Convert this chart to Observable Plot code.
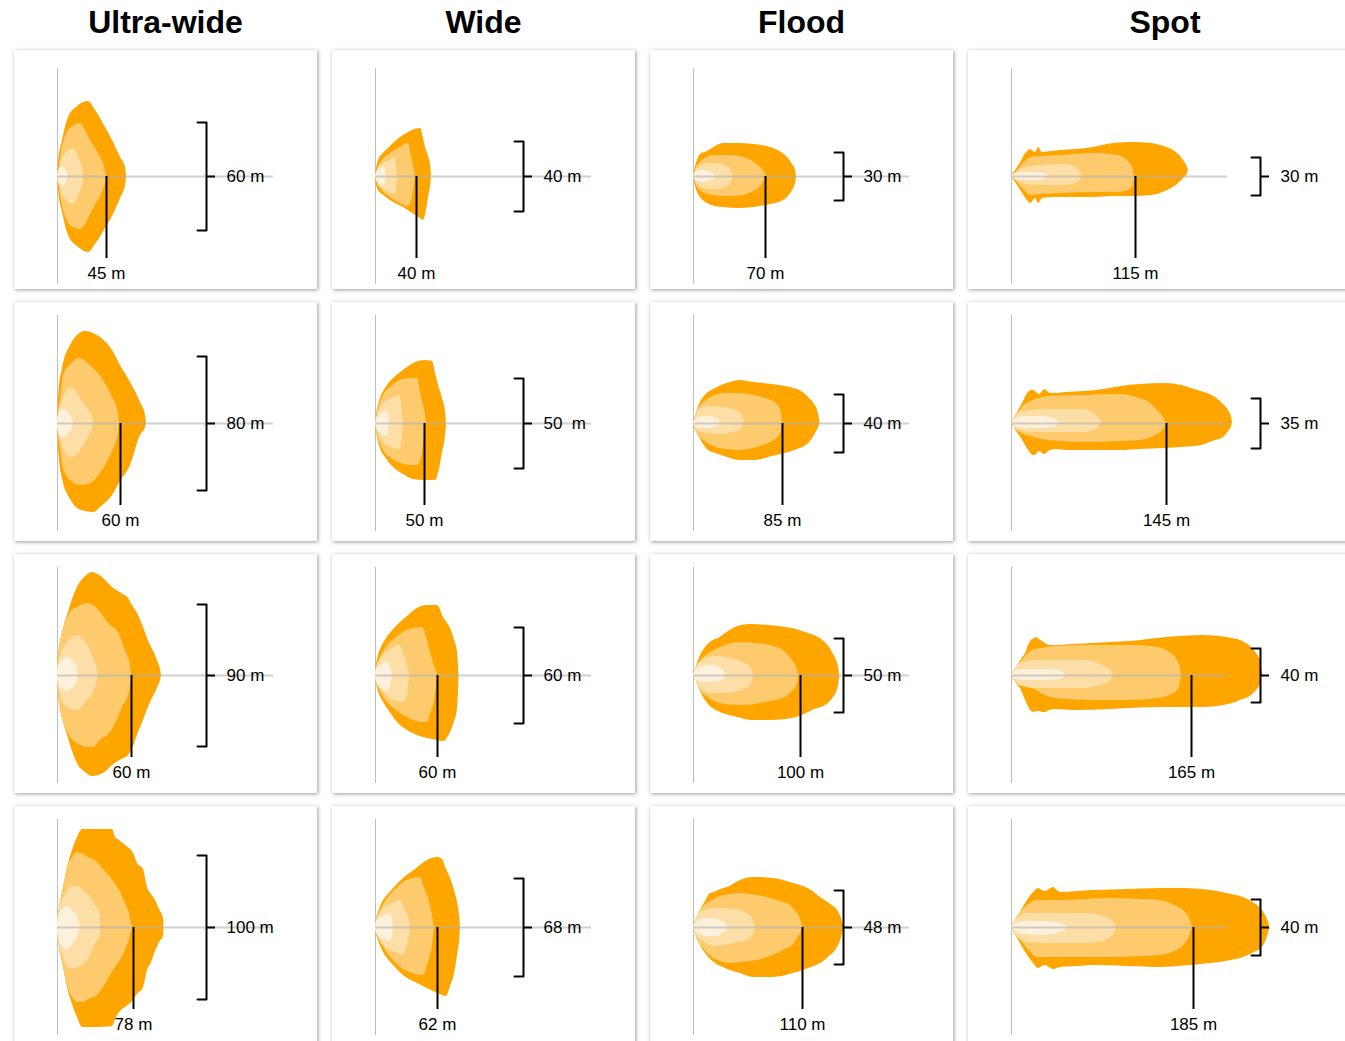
<!DOCTYPE html>
<html><head><meta charset="utf-8">
<script src="https://cdn.jsdelivr.net/npm/d3@7"></script>
<script src="https://cdn.jsdelivr.net/npm/@observablehq/plot@0.6"></script>
<style>
body{margin:0;background:#fff;width:1345px;height:1041px;overflow:hidden;position:relative;font-family:"Liberation Sans",Arial,sans-serif;}
.title{position:absolute;top:3px;font-weight:bold;font-size:32px;line-height:38px;text-align:center;color:#000;}
.panel{position:absolute;background:#fff;box-shadow:1px 1px 4px rgba(0,0,0,.4);}
.panel svg{display:block;}
svg text{white-space:pre;}
</style></head><body>
<script>
// ---- data ----
const beamTypes = ["Ultra-wide", "Wide", "Flood", "Spot"];
const reachLabels = [["45 m","60 m","60 m","78 m"],["40 m","50 m","60 m","62 m"],["70 m","85 m","100 m","110 m"],["115 m","145 m","165 m","185 m"]];
const spreadLabels = [["60 m","80 m","90 m","100 m"],["40 m","50  m","60 m","68 m"],["30 m","40 m","50 m","48 m"],["30 m","35 m","40 m","40 m"]];
const reachX = [[49,63,74,76],[41,49,62,62],[72,89,107,109],[124,155,180,182]];
const spreadHalf = [[54,67,71,72],[35,45,48,49],[24,29,37,37],[19,25,27,28]];
const beamColors = ["#ffa500","#fdca6e","#fddea6","#fef1dc"];

// beam outlines per row: layers [outer, mid, inner, core], points [reach, top, bottom]
const ultraWide = [
 [[[0,0,0],[1,13,-13],[5,36,-36],[11,59,-59],[20,70,-70],[31,75,-76],[38,66,-68],[48,49,-52],[55,36,-40],[63,19,-22],[68,9,-9],[69,0,0]],
  [[0,0,0],[2,12,-12],[4,25,-25],[8,40,-40],[14,49,-50],[23,53,-53],[28,46,-48],[33,36,-38],[38,28,-29],[44,17,-18],[48,6,-6],[49,0,0]],
  [[0,0,0],[2,10,-10],[5,19,-19],[10,25,-25],[15,28,-28],[20,22,-22],[24,12,-12],[26,4,-4],[26.5,0,0]],
  [[0,0,0],[2,7,-7],[6,9,-9],[9,6,-6],[11,0,0]]],
 [[[0,0,0],[0.5,14,-14],[1.5,31,-31],[5,55,-55],[13,78,-76],[20,88,-85],[28,92,-88],[36,90,-89],[43,86,-84],[55,73,-72],[63,58,-58],[73,41,-42],[83,21,-12],[88,8,-4],[89,0,0]],
  [[0,0,0],[1,12,-12],[3,25,-25],[6,48,-45],[14,60,-58],[23,65,-62],[33,58,-60],[46,43,-45],[55,26,-28],[61,10,-10],[62,0,0]],
  [[0,0,0],[1,8,-8],[3,16,-16],[7,28,-28],[13,36,-34],[20,30,-31],[26,21,-22],[32,12,-12],[35,6,-6],[36,0,0]],
  [[0,0,0],[1,8,-8],[4,14,-14],[8,14,-14],[12,9,-9],[15,4,-4],[16,0,0]]],
 [[[0,0,0],[0.5,10,-10],[3,33,-33],[6,47,-47],[10,60,-60],[15,76,-76],[21,90,-90],[28,99,-97],[35,103,-101],[46,97,-98],[55,88,-90],[64,82,-84],[71,77,-80],[75,70,-73],[81,60,-57],[86,48,-45],[90,37,-34],[94,28,-25],[98,20,-17],[101,12,-10],[103,6,-5],[104,0,0]],
  [[0,0,0],[1,20,-20],[5,43,-43],[9,55,-55],[13,63,-62],[20,68,-68],[30,72,-72],[36,70,-72],[43,63,-65],[53,50,-57],[61,43,-42],[66,30,-30],[70,20,-23],[73,10,-10],[74,0,0]],
  [[0,0,0],[1,12,-12],[3,20,-20],[6,27,-27],[12,35,-33],[20,40,-35],[26,35,-30],[30,30,-25],[36,17,-17],[39,9,-9],[41,0,0]],
  [[0,0,0],[1,8,-8],[4,14,-13],[10,18,-16],[15,15,-13],[19,10,-9],[21,0,0]]],
 [[[0,0,0],[0.5,10,-10],[2,17,-17],[4,30,-30],[6,40,-40],[10,60,-60],[15,77,-77],[20,90,-90],[25,98,-100],[40,98,-100],[55,98,-99],[58,90,-92],[62,87,-85],[68,82,-80],[76,74,-73],[80,64,-67],[86,58,-60],[90,40,-43],[94,33,-35],[98,27,-24],[102,18,-15],[106,9,-9],[106.5,0,0]],
  [[0,0,0],[1,14,-14],[5,34,-34],[10,60,-58],[15,70,-70],[20,75,-75],[26,73,-75],[31,70,-72],[40,65,-68],[46,58,-60],[53,50,-48],[58,43,-40],[63,35,-33],[68,24,-23],[71,17,-15],[75,0,0]],
  [[0,0,0],[1,12,-12],[5,27,-27],[10,36,-38],[15,41,-42],[20,41,-40],[27,36,-36],[33,30,-28],[38,22,-16],[43,12,-8],[43.5,0,0]],
  [[0,0,0],[1,10,-10],[5,18,-19],[10,21,-23],[15,17,-17],[20,11,-10],[23,0,0]]]
];
const wide = [
 [[[0,0,0],[1,8,-8],[3,16,-14],[7,22,-18],[12,27,-22],[20,35,-27],[28,41,-31],[37,46,-37],[45,48,-42],[48,38,-44],[50,29,-38],[53,20,-21],[55,12,-10],[56,0,0]],
  [[0,0,0],[2,7,-7],[6,15,-13],[15,23,-21],[25,29,-27],[33,33,-30],[36,20,-24],[38,12,-14],[40,0,0]],
  [[0,0,0],[2,7,-7],[7,12,-12],[14,16,-16],[20,19,-18],[21,9,-10],[22,0,0]],
  [[0,0,0],[2,5,-5],[5,8,-8],[8,9,-9],[10,5,-5],[11,0,0]]],
 [[[0,0,0],[1,8,-8],[5,25,-25],[10,35,-34],[18,45,-44],[28,53,-51],[38,60,-56],[50,63,-57],[57,62,-57],[60,50,-57],[63,38,-50],[67,25,-29],[70,11,-12],[71,0,0]],
  [[0,0,0],[2,11,-11],[8,28,-27],[16,37,-35],[25,43,-40],[35,45,-42],[42,45,-42],[45,31,-38],[48,18,-22],[50,8,-8],[50.5,0,0]],
  [[0,0,0],[2,8,-8],[8,20,-19],[16,25,-24],[24,28,-26],[26,18,-20],[27,9,-10],[28,0,0]],
  [[0,0,0],[2,6,-6],[7,11,-11],[12,13,-13],[13,7,-7],[14,0,0]]],
 [[[0,0,0],[1,10,-8],[3,20,-16],[7,30,-25],[14,41,-36],[22,50,-47],[32,59,-55],[42,67,-60],[52,70,-63],[62,70,-65],[68,58,-66],[75,47,-57],[79,35,-46],[82,23,-33],[83,10,-15],[83.5,0,0]],
  [[0,0,0],[1,8,-7],[3,14,-12],[7,22,-20],[12,30,-27],[20,37,-34],[28,43,-40],[38,47,-45],[47,48,-47],[52,35,-47],[55,23,-38],[58,12,-30],[61,4,-10],[62,0,0]],
  [[0,0,0],[1,7,-6],[4,14,-12],[8,20,-17],[15,26,-23],[25,30,-27],[28,22,-27],[31,13,-23],[33,6,-13],[34,0,0]],
  [[0,0,0],[1,6,-6],[5,10,-12],[13,13,-16],[15,8,-10],[17,0,0]]],
 [[[0,0,0],[1,8,-7],[3,15,-13],[8,27,-25],[12,32,-31],[20,41,-40],[28,49,-48],[40,58,-55],[52,67,-61],[62,70,-66],[67,68,-68],[71,58,-69],[75,49,-59],[79,37,-46],[82,25,-28],[84,12,-14],[85,0,0]],
  [[0,0,0],[1,6,-5],[3,12,-10],[7,21,-18],[12,29,-26],[20,38,-35],[28,45,-42],[38,49,-46],[45,50,-48],[48,42,-48],[52,32,-38],[55,21,-28],[57,12,-18],[58,6,-8],[59,0,0]],
  [[0,0,0],[1,6,-5],[4,13,-12],[8,19,-18],[15,23,-23],[25,27,-27],[28,22,-28],[32,12,-17],[34,6,-9],[35,0,0]],
  [[0,0,0],[1,5,-5],[5,10,-10],[10,12,-13],[15,14,-14],[17,7,-8],[18,0,0]]]
];
const flood = [
 [[[0,0,0],[2,10,-10],[4,16,-16],[7,22,-21],[14,25,-27],[22,30,-30],[30,33,-31],[45,33,-32],[60,32,-31],[77,29,-28],[88,24,-25],[94,19,-21],[99,12,-14],[102,6,-7],[103,0,0]],
  [[0,0,0],[2,7,-7],[6,13,-13],[12,18,-17],[20,21,-19],[35,21,-20],[50,19,-19],[58,16,-16],[65,11,-12],[70,6,-6],[73,0,0]],
  [[0,0,0],[3,7,-7],[8,11,-11],[15,13,-13],[25,13,-13],[32,11,-11],[37,7,-7],[40,0,0]],
  [[0,0,0],[2,4,-4],[8,6,-6],[15,5,-5],[20,3,-3],[22,0,0]]],
 [[[0,0,0],[3,10,-8],[6,19,-14],[10,26,-21],[15,31,-27],[22,35,-30],[28,38,-32],[37,41,-35],[46,43,-37],[60,41,-37],[79,39,-33],[92,37,-30],[104,34,-26],[111,30,-23],[117,24,-18],[121,19,-12],[124,13,-6],[126,4,-2],[126.5,1,1]],
  [[0,0,0],[2,8,-7],[6,16,-13],[13,23,-19],[22,28,-24],[33,30,-26],[46,30,-27],[60,28,-25],[75,24,-20],[84,19,-14],[88,11,-8],[89,2,-2],[89.5,0,0]],
  [[0,0,0],[3,8,-6],[6,14,-8],[15,17,-10],[28,16,-11],[40,14,-9],[46,11,-7],[49,7,-4],[51,1,1]],
  [[0,0,0],[3,5,-4],[9,7,-5],[17,7,-5],[23,5,-4],[27,1,1]]],
 [[[0,0,0],[3,9,-6],[7,20,-16],[12,28,-25],[18,34,-32],[25,37,-36],[32,42,-39],[40,47,-41],[48,50,-43],[58,51,-45],[75,50,-45],[92,48,-44],[103,46,-42],[115,42,-37],[121,40,-34],[128,36,-32],[136,28,-27],[140,21,-22],[143,15,-17],[145,8,-10],[146,1,-2],[146.5,-1,-1]],
  [[0,0,0],[3,8,-6],[7,14,-15],[13,20,-21],[21,25,-26],[32,30,-29],[47,33,-30],[62,32,-29],[77,30,-26],[92,23,-22],[98,16,-17],[101,12,-14],[104,5,-7],[105,0,0]],
  [[0,0,0],[3,8,-6],[7,14,-13],[14,18,-17],[25,19,-18],[36,17,-18],[45,15,-16],[55,10,-12],[59,4,-5],[60,0,0]],
  [[0,0,0],[3,6,-5],[9,9,-7],[18,10,-7],[26,8,-6],[31,4,-3],[32,0,0]]],
 [[[0,0,0],[3,9,-8],[7,17,-18],[12,26,-26],[17,34,-32],[21,35,-35],[25,37,-38],[30,39,-40],[34,40,-42],[47,47,-46],[60,50,-50],[80,49,-50],[100,44,-46],[107,42,-44],[118,37,-40],[127,30,-36],[136,24,-29],[144,17,-20],[148,9,-10],[150,2,-1],[150.5,0.5,0.5]],
  [[0,0,0],[2,7,-7],[5,14,-15],[9,20,-20],[14,24,-26],[19,27,-30],[30,32,-35],[37,33,-36],[47,34,-35],[64,32,-33],[74,30,-30],[90,25,-23],[94,24,-21],[100,19,-17],[105,12,-9],[108,5,-4],[109,0,0]],
  [[0,0,0],[2,7,-6],[5,13,-10],[10,17,-14],[20,19,-19],[30,19,-18],[40,18,-16],[47,17,-15],[55,13,-12],[59,9,-8],[61,4,-4],[62,0,0]],
  [[0,0,0],[3,5,-5],[8,8,-8],[14,9,-9],[24,8,-9],[29,6,-6],[33,3,-3],[34,0,0]]]
];
const spot = [
 [[[0,0,0],[8,12,-12],[16,25,-24],[19,27,-27],[22,25,-24],[24,24,-22],[27,29,-27],[31,24,-22],[40,25,-21],[49,26,-21],[65,27,-21],[82,29,-21],[102,33,-20],[122,34,-20],[140,33,-19],[149,31,-17],[160,27,-12],[166,23,-8],[172,16,-2],[176,9,3],[177,6,6]],
  [[0,0,0],[5,5,-5],[12,13,-13],[20,19,-19],[30,20,-18],[50,21,-17],[82,23,-16],[106,21,-16],[116,16,-14],[120,11,-12],[122,6,-7],[123,-1,-1]],
  [[0,0,0],[5,4,-4],[15,9,-8],[30,11,-9],[50,12,-9],[60,11,-8],[67,7,-5],[71,1,1]],
  [[0,0,0],[5,3,-3],[15,4,-4],[28,4,-4],[34,3,-2],[37,0.5,0.5]]],
 [[[0,0,0],[5,9,-8],[10,18,-15],[17,31,-27],[20,33,-31],[22.5,33,-32],[25,31,-31],[28,29,-28],[31,32,-30],[33.5,34,-31],[36,32,-29],[39,30,-27],[44,30,-26],[55,31,-27],[73,32,-27],[92,34,-27],[110,37,-27],[128,39,-26],[154,40,-25],[170,38,-24],[183,34,-23],[190,32,-22],[204,26,-17],[212,19,-14],[217,13,-8],[220,6,-3],[221,1,1]],
  [[0,0,0],[5,8,-7],[10,15,-10],[15,20,-12],[22,23,-14],[37,27,-17],[73,28,-19],[110,29,-18],[128,25,-17],[138,21,-15],[146,13,-11],[152,6,-6],[155,0,0]],
  [[0,0,0],[4,6,-5],[8,11,-7],[20,13,-9],[40,14,-9],[73,14,-9],[82,10,-7],[87,6,-4],[90,1,1]],
  [[0,0,0],[5,5,-4],[15,7,-5],[30,7,-5],[42,5,-4],[48,1,1]]],
 [[[0,0,0],[5,8,-8],[10,16,-15],[14,22,-25],[17,30,-31],[20,35,-36],[23,37,-37],[25,38,-36],[28,36,-36],[31,34,-37],[34,32,-37],[38,30,-35],[44,30,-34],[62,31,-35],[99,33,-34],[118,34,-33],[155,38,-32],[191,40,-32],[221,37,-28],[229,35,-25],[240,28,-20],[245,22,-15],[249,15,-8],[251,2,0],[251.5,1,1]],
  [[0,0,0],[5,8,-6],[10,14,-9],[15,20,-11],[21,25,-13],[30,27,-18],[44,29,-23],[81,30,-25],[118,30,-25],[147,28,-23],[158,23,-20],[166,15,-15],[169,7,-7],[170,0,0]],
  [[0,0,0],[4,8,-6],[8,12,-10],[25,15,-13],[50,15,-13],[73,15,-13],[85,13,-11],[95,8,-8],[100,4,-4],[102,0,0]],
  [[0,0,0],[5,5,-4],[15,6,-5],[35,6,-5],[48,5,-4],[55,0,0]]],
 [[[0,0,0],[5,8,-9],[10,17,-18],[16,27,-28],[22,35,-36],[27,39,-41],[31,37,-39],[34,36,-38],[38,38,-40],[42,40,-42],[46,37,-41],[49,35,-40],[66,36,-39],[82,37,-38],[116,38,-39],[149,39,-40],[166,39,-39],[199,37,-36],[220,33,-33],[232,30,-30],[243,24,-25],[251,17,-20],[255,10,-12],[258,2,-2],[258.5,0,0]],
  [[0,0,0],[4,8,-8],[9,15,-13],[16,22,-21],[26,27,-30],[49,27,-30],[99,29,-30],[130,28,-29],[149,27,-28],[163,22,-24],[172,17,-18],[178,9,-9],[181,0,0]],
  [[0,0,0],[4,7,-7],[9,11,-11],[15,14,-15],[49,14,-16],[75,14,-16],[89,12,-15],[98,9,-11],[103,4,-5],[105,0,0]],
  [[0,0,0],[4,4,-4],[12,6,-7],[32,6,-8],[45,5,-6],[52,3,-3],[56,0,0]]]
];

// ---- layout ----
const colLeft = [14, 332, 650, 968];
const colWidth = [303, 303, 303, 394];
const rowTop = [50, 302, 554, 806];
const rowCenter = [126, 121, 121, 121];
const panelH = 239, lampX = 43;
const bracketX = [140, 139, 141, 240];
const shapes = [ultraWide, wide, flood, spot];

beamTypes.forEach((name, c) => {
  const t = document.createElement("div");
  t.className = "title";
  t.style.left = colLeft[c] + "px";
  t.style.width = colWidth[c] + "px";
  t.textContent = name;
  document.body.appendChild(t);
  for (let r = 0; r < 4; r++) {
    const W = colWidth[c], cy = rowCenter[r], bx = bracketX[c];
    const h = spreadHalf[c][r], rx = reachX[c][r];
    const marks = [
      Plot.ruleX([0], {x: () => 0, y1: () => -108, y2: () => 108, stroke: "#bdbdbd", strokeWidth: 1}),
      ...shapes[c][r].map((pts, i) => Plot.areaY(pts, {x: d => d[0], y1: d => d[2], y2: d => d[1], fill: beamColors[i], curve: "monotone-x"})),
      Plot.ruleY([0], {y: () => 0, x1: () => 0, x2: () => 216, stroke: "#b0b0b0", strokeOpacity: 0.6, strokeWidth: 2}),
      Plot.ruleX([rx], {x: d => d, y1: () => 0, y2: () => -82, stroke: "#000", strokeWidth: 2}),
      Plot.text([reachLabels[c][r]], {x: () => rx, y: () => -97, text: d => d, fontSize: 17, fill: "#000"}),
      Plot.line([[bx, h], [bx + 9, h], [bx + 9, -h], [bx, -h]], {x: d => d[0], y: d => d[1], stroke: "#000", strokeWidth: 2, strokeLinejoin: "round"}),
      Plot.ruleY([0], {y: () => 0, x1: () => bx + 9, x2: () => bx + 18, stroke: "#000", strokeWidth: 2}),
      Plot.text([spreadLabels[c][r]], {x: () => bx + 29, y: () => 0, text: d => d, textAnchor: "start", fontSize: 17, fill: "#000"})
    ];
    const svg = Plot.plot({
      width: W, height: panelH, margin: 0,
      x: {domain: [-lampX, W - lampX], axis: null},
      y: {domain: [cy - panelH, cy], axis: null},
      style: {background: "transparent", fontFamily: "Liberation Sans, Arial, sans-serif", overflow: "visible"},
      marks
    });
    const p = document.createElement("div");
    p.className = "panel";
    p.style.left = colLeft[c] + "px";
    p.style.top = rowTop[r] + "px";
    p.style.width = W + "px";
    p.style.height = panelH + "px";
    p.appendChild(svg);
    document.body.appendChild(p);
  }
});
</script>
</body></html>
